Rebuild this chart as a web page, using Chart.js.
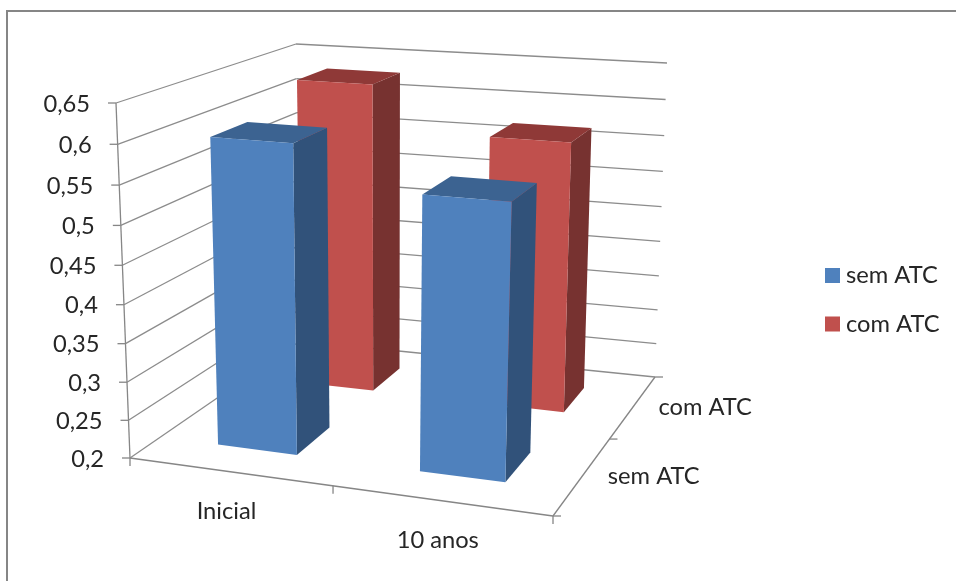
<!DOCTYPE html>
<html><head><meta charset="utf-8">
<script src="https://cdn.jsdelivr.net/npm/chart.js@4"></script>
<style>html,body{margin:0;padding:0;background:#fff;overflow:hidden}#w{position:relative;width:956px;height:581px}</style>
</head><body><div id="w"><canvas id="c" width="956" height="581"></canvas></div>
<script>
// ---- data ----
const categories = ['Inicial', '10 anos'];
const seriesNames = ['sem ATC', 'com ATC'];
const semATC = [0.60, 0.55];
const comATC = [0.63, 0.57];
const yMin = 0.2, yMax = 0.65, yStep = 0.05;

// ---- colours ----
const faces = {
  'sem ATC': { front: '#4F81BD', side: '#31527A', top: '#3C6391' },
  'com ATC': { front: '#C0504D', side: '#773230', top: '#8F3937' }
};
const gridColor = '#8C8C8C', axisColor = '#868686', textColor = '#262626';
const FONT = '23.7px Lato, sans-serif';

// ---- the 3-D box as seen on the page: [u, v, d] corner → screen point ----
const box = {
  flb: [130, 458], frb: [553, 516], blb: [300, 341], brb: [655, 377],
  flt: [116, 103], frt: [565, 135], blt: [296, 44],  brt: [667, 63]
};
const persp = { u: 0.923, v: 0.95, d: 1.24 };
const warp = (t, r) => t * r / (1 + (r - 1) * t);
function project(u, v, d) {
  const a = warp(u, persp.u), b = warp(v, persp.v), c = warp(d, persp.d);
  const mix = (p, q, t) => [p[0] + (q[0] - p[0]) * t, p[1] + (q[1] - p[1]) * t];
  const bottom = mix(mix(box.flb, box.frb, a), mix(box.blb, box.brb, a), c);
  const top = mix(mix(box.flt, box.frt, a), mix(box.blt, box.brt, a), c);
  return mix(bottom, top, b);
}
const legendPlace = { box: 825, text: 846, rows: [275.5, 324], size: 15 };

const plugin3d = {
  id: 'plugin3d',
  // the flat bars are replaced by projected prisms
  beforeDatasetsDraw() { return false; },
  afterDraw(chart) {
    const ctx = chart.ctx, xS = chart.scales.x, yS = chart.scales.y, zS = chart.scales.z;
    const U = px => (px - xS.left) / xS.width;
    const V = px => (yS.bottom - px) / yS.height;
    const D = px => (px - zS.left) / zS.width;
    const line = (a, b, col, w) => {
      ctx.beginPath(); ctx.moveTo(a[0], a[1]); ctx.lineTo(b[0], b[1]);
      ctx.strokeStyle = col; ctx.lineWidth = w || 1.3; ctx.stroke();
    };
    const poly = (pts, col) => {
      ctx.beginPath(); pts.forEach((p, i) => i ? ctx.lineTo(p[0], p[1]) : ctx.moveTo(p[0], p[1]));
      ctx.closePath(); ctx.fillStyle = col; ctx.fill();
    };
    const text = (s, p, align) => {
      ctx.font = FONT; ctx.fillStyle = textColor; ctx.textAlign = align; ctx.textBaseline = 'middle';
      ctx.fillText(s, p[0], p[1]);
    };
    ctx.save();

    // walls: gridlines
    yS.ticks.forEach(t => {
      const v = V(yS.getPixelForValue(t.value));
      const fl = project(0, v, 0), bl = project(0, v, 1), br = project(1, v, 1);
      line(fl, bl, gridColor); line(bl, br, gridColor);
      line(fl, [fl[0] - 8, fl[1]], axisColor);
      text(t.label, [fl[0] - 26, fl[1] + 1], 'right');
    });
    // axes
    line(project(0, 0, 0), project(0, 1, 0), axisColor);
    line(project(0, 0, 0), project(1, 0, 0), axisColor);
    line(project(1, 0, 0), project(1, 0, 1), axisColor);
    // category ticks and labels
    for (let i = 0; i <= categories.length; i++) {
      const p = project(i / categories.length, 0, 0);
      line(p, [p[0], p[1] + 8], axisColor);
    }
    categories.forEach((c, i) => {
      const p = project(U(xS.getPixelForValue(i)), 0, 0);
      text(c, [p[0] - 3, p[1] + 40], 'center');
    });
    for (let i = 0; i <= seriesNames.length; i++) {
      const p = project(1, 0, i / seriesNames.length);
      line(p, [p[0] + 8, p[1]], axisColor);
    }
    seriesNames.forEach((c, i) => {
      const p = project(1, 0, D(zS.getPixelForValue(i)));
      text(c, [p[0] + 25, p[1] + 1], 'left');
    });

    // prisms, back row first
    const depthHalf = 0.1;
    for (let ds = chart.data.datasets.length - 1; ds >= 0; ds--) {
      const set = chart.data.datasets[ds], f = faces[set.label];
      const dc = D(zS.getPixelForValue(ds));
      chart.getDatasetMeta(ds).data.forEach(el => {
        const u0 = U(el.x - el.width / 2), u1 = U(el.x + el.width / 2);
        const v1 = V(el.y), v0 = V(el.base);
        const d0 = dc - depthHalf, d1 = dc + depthHalf;
        poly([project(u1, v0, d0), project(u1, v0, d1), project(u1, v1, d1), project(u1, v1, d0)], f.side);
        poly([project(u0, v1, d0), project(u1, v1, d0), project(u1, v1, d1), project(u0, v1, d1)], f.top);
        poly([project(u0, v0, d0), project(u1, v0, d0), project(u1, v1, d0), project(u0, v1, d0)], f.front);
      });
    }
    // legend
    chart.data.datasets.forEach((set, i) => {
      const y = legendPlace.rows[i], s = legendPlace.size;
      ctx.fillStyle = set.backgroundColor;
      ctx.fillRect(legendPlace.box, y - s / 2, s, s);
      text(set.label, [legendPlace.text, y], 'left');
    });
    // chart frame: top and left edges only
    ctx.beginPath(); ctx.moveTo(956, 11); ctx.lineTo(7, 11); ctx.lineTo(7, 581);
    ctx.strokeStyle = axisColor; ctx.lineWidth = 2; ctx.stroke();
    ctx.restore();
  }
};

new Chart(document.getElementById('c'), {
  type: 'bar',
  data: {
    labels: categories,
    datasets: [
      { label: seriesNames[0], data: semATC, base: yMin, backgroundColor: faces['sem ATC'].front },
      { label: seriesNames[1], data: comATC, base: yMin, backgroundColor: faces['com ATC'].front }
    ]
  },
  options: {
    responsive: false, animation: false,
    datasets: { bar: { grouped: false, categoryPercentage: 0.4, barPercentage: 1 } },
    scales: {
      x: { display: false, offset: true },
      z: { type: 'category', axis: 'x', labels: seriesNames, display: false, offset: true, position: 'bottom' },
      y: { display: false, min: yMin, max: yMax,
           ticks: { stepSize: yStep, callback: v => String(+v.toFixed(2)).replace('.', ',') } }
    },
    plugins: { tooltip: { enabled: false }, legend: { display: false } }
  },
  plugins: [plugin3d]
});
</script></body></html>
